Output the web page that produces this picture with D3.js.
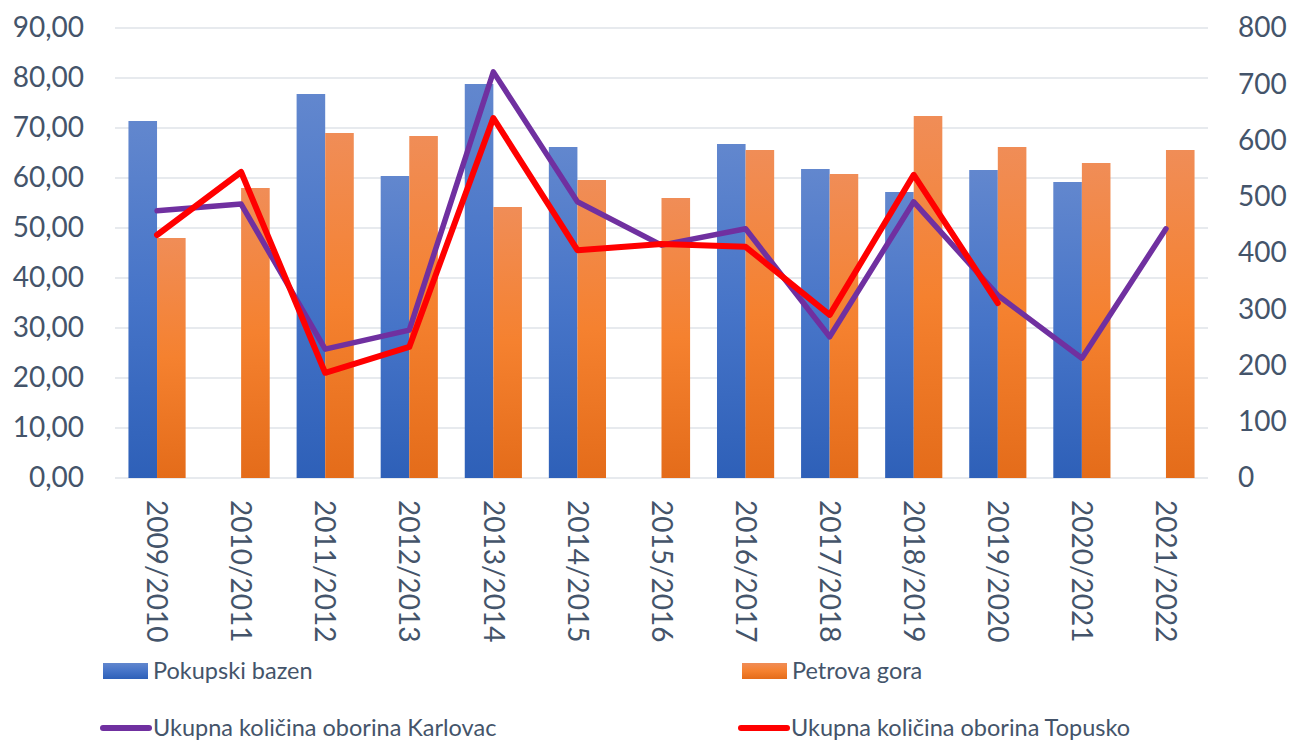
<!DOCTYPE html>
<html>
<head>
<meta charset="utf-8">
<script src="https://cdn.jsdelivr.net/npm/d3@7"></script>
<style>
  body { margin: 0; background: #fff; }
  text { font-family: Lato, "Open Sans", sans-serif; fill: #44546A; }
</style>
</head>
<body>
<div id="chart"></div>
<script>
const seasons = ["2009/2010", "2010/2011", "2011/2012", "2012/2013", "2013/2014", "2014/2015",
  "2015/2016", "2016/2017", "2017/2018", "2018/2019", "2019/2020", "2020/2021", "2021/2022"];

// bars, left axis
const pokupski = [71.4, null, 76.8, 60.4, 78.8, 66.2, null, 66.8, 61.8, 57.2, 61.6, 59.2, null];
const petrova = [48.0, 58.0, 69.0, 68.4, 54.2, 59.6, 56.0, 65.6, 60.8, 72.4, 66.2, 63.0, 65.6];

// lines, right axis
const karlovac = [475, 487, 229, 263, 722, 491, 414, 443, 251, 491, 325, 213, 443];
const topusko = [432, 544, 187, 233, 640, 405, 416, 411, 290, 539, 311, null, null];

const leftTicks = [0, 10, 20, 30, 40, 50, 60, 70, 80, 90];
const rightTicks = [0, 100, 200, 300, 400, 500, 600, 700, 800];

const W = 1290, H = 742;
const margin = {top: 28, right: 82, bottom: 264, left: 115};
const width = W - margin.left - margin.right;
const height = H - margin.top - margin.bottom;

const svg = d3.select("#chart").append("svg")
  .attr("width", W)
  .attr("height", H);

const defs = svg.append("defs");
function grad(id, c0, c1, c2) {
  const g = defs.append("linearGradient").attr("id", id)
    .attr("x1", 0).attr("y1", 0).attr("x2", 0).attr("y2", 1);
  g.append("stop").attr("offset", "0%").attr("stop-color", c0);
  g.append("stop").attr("offset", "50%").attr("stop-color", c1);
  g.append("stop").attr("offset", "100%").attr("stop-color", c2);
}
grad("gBlue", "#6287CE", "#4674C8", "#2E60B8");
grad("gOrange", "#F08D57", "#F5812F", "#E46C1A");

const g = svg.append("g")
  .attr("transform", "translate(" + margin.left + "," + margin.top + ")");

const x = d3.scaleBand()
  .domain(seasons)
  .range([0, width])
  .paddingInner(0.32)
  .paddingOuter(0.16);

const x1 = d3.scaleBand()
  .domain(["pokupski", "petrova"])
  .range([0, x.bandwidth()]);

const yL = d3.scaleLinear().domain([0, 90]).range([height, 0]);
const yR = d3.scaleLinear().domain([0, 800]).range([height, 0]);

// gridlines
g.append("g")
  .selectAll("line")
  .data(leftTicks)
  .enter()
  .append("line")
    .attr("x1", 0)
    .attr("x2", width)
    .attr("y1", d => yL(d))
    .attr("y2", d => yL(d))
    .attr("stroke", "#DFE3E8")
    .attr("stroke-width", 1.5);

// left axis
const fmt = d => d3.format(".2f")(d).replace(".", ",");
const axL = g.append("g")
  .call(d3.axisLeft(yL).tickValues(leftTicks).tickFormat(fmt).tickSize(0).tickPadding(31));
axL.select(".domain").remove();
axL.selectAll("text").style("font-size", "28px").attr("fill", "#44546A")
  .style("font-family", "Lato, 'Open Sans', sans-serif");

// right axis
const axR = g.append("g")
  .attr("transform", "translate(" + width + ",0)")
  .call(d3.axisRight(yR).tickValues(rightTicks).tickSize(0).tickPadding(30));
axR.select(".domain").remove();
axR.selectAll("text").style("font-size", "28px").attr("fill", "#44546A")
  .style("font-family", "Lato, 'Open Sans', sans-serif");

// x labels
g.append("g")
  .selectAll("text")
  .data(seasons)
  .enter()
  .append("text")
    .attr("transform", d => "translate(" + (x(d) + x.bandwidth() / 2) + "," + (height + 22) + ") rotate(90)")
    .attr("dy", "0.35em")
    .style("font-size", "28px")
    .text(d => d);

// bars
const barData = [];
seasons.forEach((s, i) => {
  barData.push({season: s, key: "pokupski", value: pokupski[i]});
  barData.push({season: s, key: "petrova", value: petrova[i]});
});
g.append("g")
  .selectAll("rect")
  .data(barData.filter(d => d.value != null))
  .enter()
  .append("rect")
    .attr("x", d => x(d.season) + x1(d.key))
    .attr("width", x1.bandwidth())
    .attr("y", d => yL(d.value))
    .attr("height", d => height - yL(d.value))
    .attr("fill", d => d.key === "pokupski" ? "url(#gBlue)" : "url(#gOrange)");

// lines
const line = d3.line()
  .defined(d => d.v != null)
  .x(d => x(d.s) + x.bandwidth() / 2)
  .y(d => yR(d.v));

g.append("path")
  .datum(seasons.map((s, i) => ({s: s, v: karlovac[i]})))
  .attr("d", line)
  .attr("fill", "none")
  .attr("stroke", "#7030A0")
  .attr("stroke-width", 5.5)
  .attr("stroke-linejoin", "round")
  .attr("stroke-linecap", "round");

g.append("path")
  .datum(seasons.map((s, i) => ({s: s, v: topusko[i]})))
  .attr("d", line)
  .attr("fill", "none")
  .attr("stroke", "#FF0000")
  .attr("stroke-width", 6)
  .attr("stroke-linejoin", "round")
  .attr("stroke-linecap", "round");

// legend
const legend = svg.append("g");
const items = [
  {label: "Pokupski bazen", type: "bar", fill: "url(#gBlue)", x: 103, y: 671},
  {label: "Petrova gora", type: "bar", fill: "url(#gOrange)", x: 742, y: 671},
  {label: "Ukupna količina oborina Karlovac", type: "line", stroke: "#7030A0", x: 103, y: 728},
  {label: "Ukupna količina oborina Topusko", type: "line", stroke: "#FF0000", x: 741, y: 728}
];
items.forEach(it => {
  const li = legend.append("g").attr("transform", "translate(" + it.x + "," + it.y + ")");
  if (it.type === "bar") {
    li.append("rect").attr("x", 0).attr("y", -8).attr("width", 45).attr("height", 16).attr("fill", it.fill);
  } else {
    li.append("line").attr("x1", 0).attr("x2", 46).attr("y1", 0).attr("y2", 0)
      .attr("stroke", it.stroke).attr("stroke-width", 6).attr("stroke-linecap", "round");
  }
  li.append("text")
    .attr("x", 50)
    .attr("dy", "0.33em")
    .style("font-size", "23.5px")
    .text(it.label);
});
</script>
</body>
</html>
